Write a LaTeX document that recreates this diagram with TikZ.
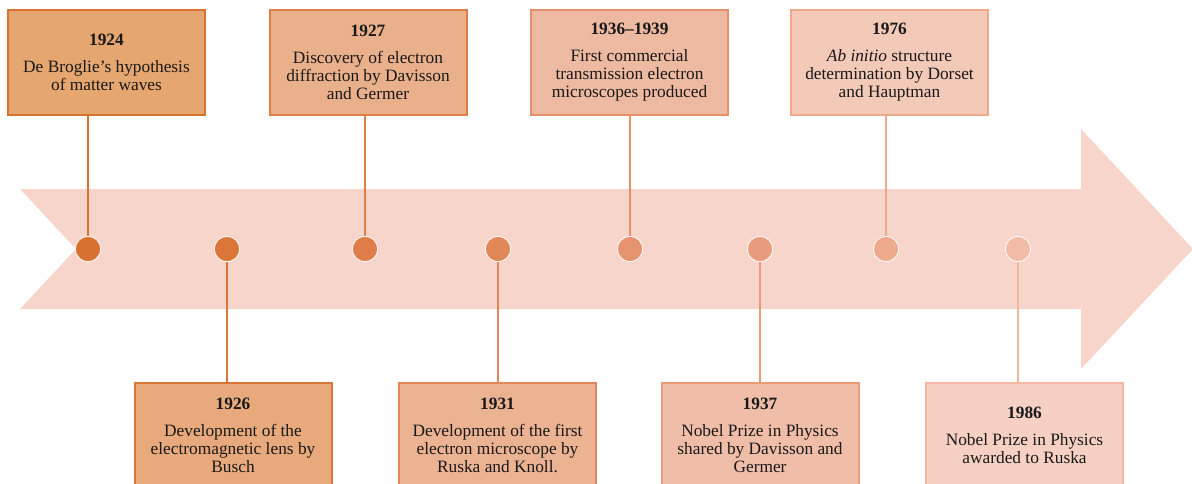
\documentclass[tikz,border=0pt]{standalone}
\usepackage{fontspec}
\setmainfont{Liberation Serif}
\definecolor{arrowfill}{HTML}{F8D5CB}
\definecolor{fA}{HTML}{E6A66F}\definecolor{eA}{HTML}{D9722F}\definecolor{dA}{HTML}{D8712F}
\definecolor{fB}{HTML}{E8AA7C}\definecolor{eB}{HTML}{DB7639}\definecolor{dB}{HTML}{DC7638}
\definecolor{fC}{HTML}{EAB08B}\definecolor{eC}{HTML}{E07E48}\definecolor{dC}{HTML}{DF7E4A}
\definecolor{fD}{HTML}{ECB393}\definecolor{eD}{HTML}{E3875A}\definecolor{dD}{HTML}{E28858}
\definecolor{fE}{HTML}{EEB9A1}\definecolor{eE}{HTML}{E69069}\definecolor{dE}{HTML}{E69370}
\definecolor{fF}{HTML}{F0BDA8}\definecolor{eF}{HTML}{E99B7A}\definecolor{dF}{HTML}{E89C7D}
\definecolor{fG}{HTML}{F3C9B8}\definecolor{eG}{HTML}{EFA98D}\definecolor{dG}{HTML}{EFAA8E}
\definecolor{fH}{HTML}{F6D0C3}\definecolor{eH}{HTML}{F2B8A2}\definecolor{dH}{HTML}{F3BCA7}
\begin{document}
\begin{tikzpicture}[x=0.75pt,y=-0.75pt,
  evbox/.style={draw, line width=1.5pt, minimum width=147.75pt, minimum height=78.75pt,
    inner sep=0pt, align=center, font=\fontsize{13}{13.5}\selectfont, text=black!90},
  dot/.style={circle, draw=white, line width=0.6pt, minimum size=19pt, inner sep=0pt},
  conn/.style={line width=1.5pt}]
\useasboundingbox (0,0) rectangle (1192,483);
\clip (0,0) rectangle (1192,483);
\fill[arrowfill] (20,189) -- (1081,189) -- (1081,129) -- (1193,249) -- (1081,369)
  -- (1081,309) -- (20,309) -- (76,249) -- cycle;
% dots
\node[dot, fill=dA] (c1) at (88,249) {};
\node[dot, fill=dB] (c2) at (227,249) {};
\node[dot, fill=dC] (c3) at (365,249) {};
\node[dot, fill=dD] (c4) at (498,249) {};
\node[dot, fill=dE] (c5) at (630,249) {};
\node[dot, fill=dF] (c6) at (760,249) {};
\node[dot, fill=dG] (c7) at (886,249) {};
\node[dot, fill=dH] (c8) at (1018,249) {};
% boxes
\node[evbox, fill=fA, draw=eA] (b1) at (106.5,62.5)
  {\textbf{1924}\\[6.75pt]De Broglie’s hypothesis\\of matter waves};
\node[evbox, fill=fB, draw=eB] (b2) at (233,435.5)
  {\textbf{1926}\\[6.75pt]Development of the\\electromagnetic lens by\\Busch};
\node[evbox, fill=fC, draw=eC] (b3) at (368,62.5)
  {\textbf{1927}\\[6.75pt]Discovery of electron\\diffraction by Davisson\\and Germer};
\node[evbox, fill=fD, draw=eD] (b4) at (497.5,435.5)
  {\textbf{1931}\\[6.75pt]Development of the first\\electron microscope by\\Ruska and Knoll.};
\node[evbox, fill=fE, draw=eE] (b5) at (629.5,62.5)
  {\textbf{1936–1939}\\[6.75pt]First commercial\\transmission electron\\microscopes produced};
\node[evbox, fill=fF, draw=eF] (b6) at (760,435.5)
  {\textbf{1937}\\[6.75pt]Nobel Prize in Physics\\shared by Davisson and\\Germer};
\node[evbox, fill=fG, draw=eG] (b7) at (889.5,62.5)
  {\textbf{1976}\\[6.75pt]\textit{Ab initio} structure\\determination by Dorset\\and Hauptman};
\node[evbox, fill=fH, draw=eH] (b8) at (1024.5,435.5)
  {\textbf{1986}\\[6.75pt]Nobel Prize in Physics\\awarded to Ruska};
% connectors
\draw[conn, eA] (c1.north) -- (c1 |- b1.south);
\draw[conn, eB] (c2.south) -- (c2 |- b2.north);
\draw[conn, eC] (c3.north) -- (c3 |- b3.south);
\draw[conn, eD] (c4.south) -- (c4 |- b4.north);
\draw[conn, eE] (c5.north) -- (c5 |- b5.south);
\draw[conn, eF] (c6.south) -- (c6 |- b6.north);
\draw[conn, eG] (c7.north) -- (c7 |- b7.south);
\draw[conn, eH] (c8.south) -- (c8 |- b8.north);
\end{tikzpicture}
\end{document}
